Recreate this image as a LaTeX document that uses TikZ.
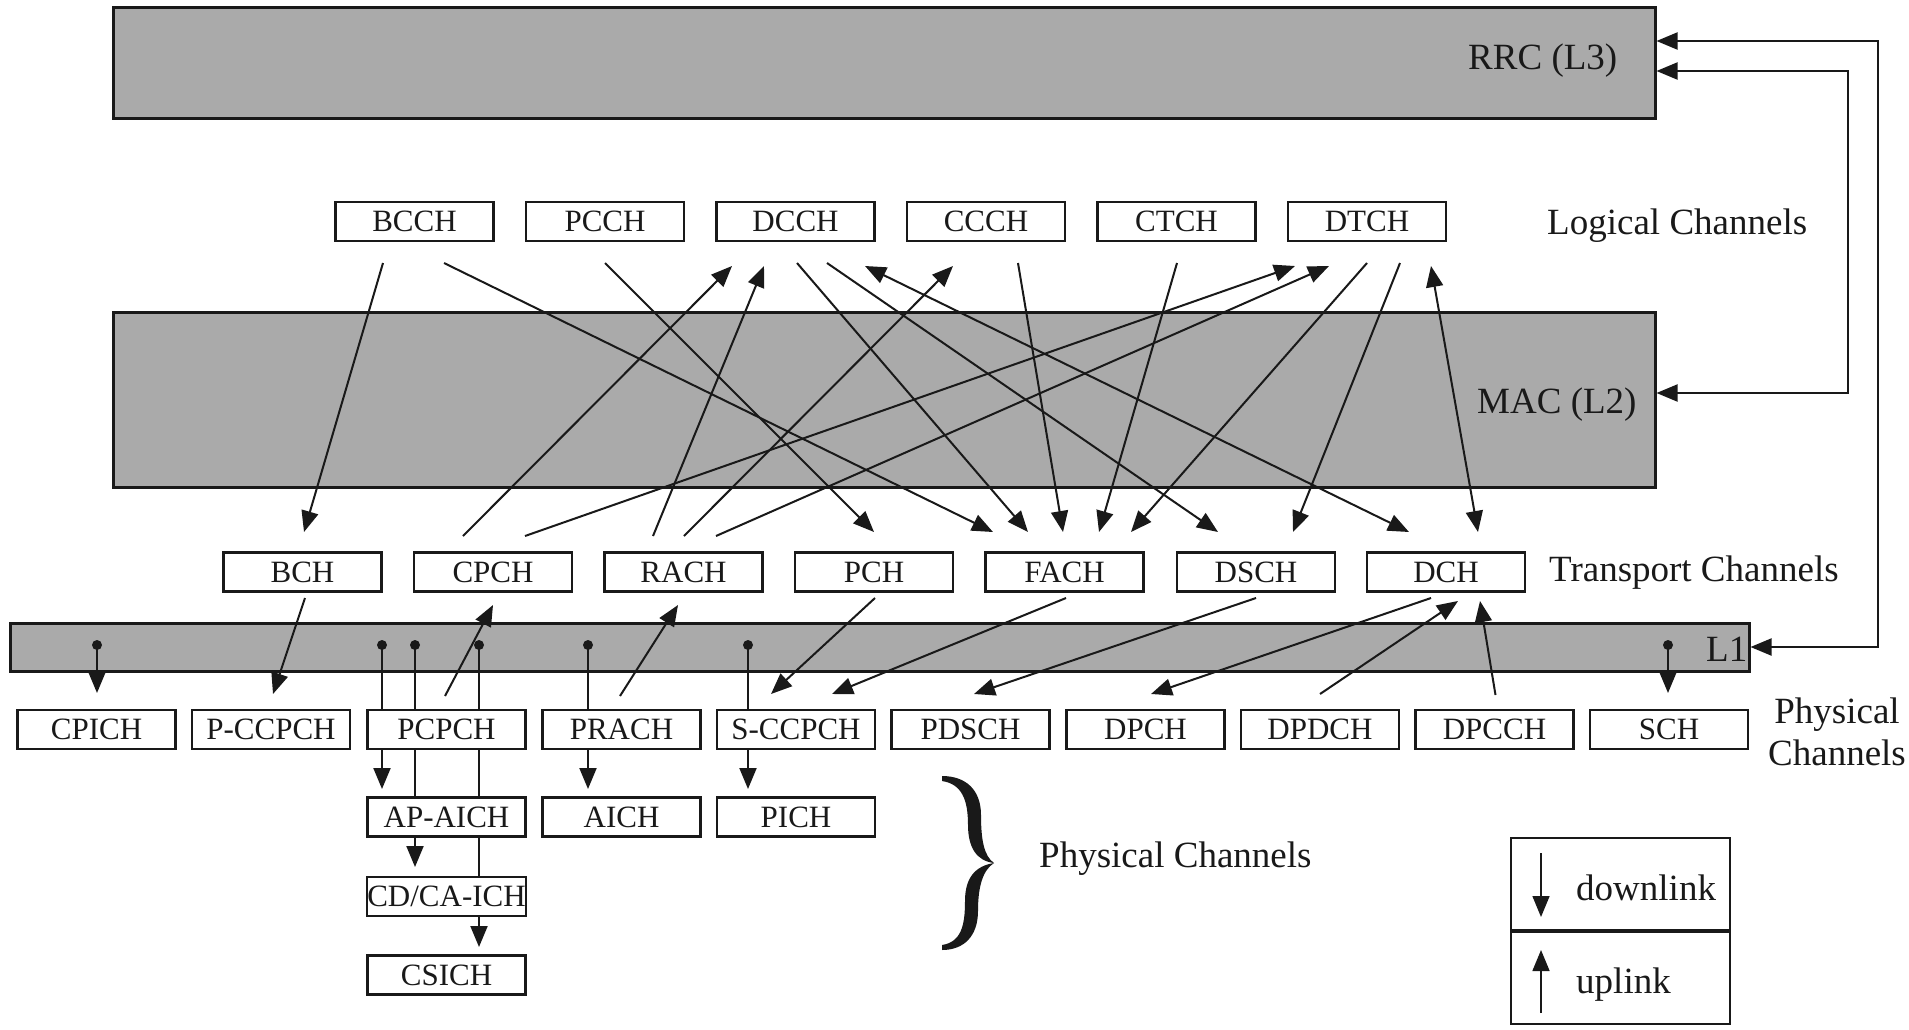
\documentclass[tikz,border=0pt]{standalone}
\usepackage{fontspec}
\setmainfont{Liberation Serif}
\usetikzlibrary{arrows.meta,calc}
\pgfdeclarelayer{bars}
\pgfdeclarelayer{wires}
\pgfsetlayers{bars,wires,main}
\definecolor{layergray}{RGB}{170,170,170}
\definecolor{ink}{RGB}{25,25,25}
\begin{document}
\begin{tikzpicture}[x=1pt,y=-1pt,
  chan/.style={draw=ink, line width=2.4pt, fill=white, minimum width=158pt,
    minimum height=39pt, inner sep=0pt, text=ink, font=\fontsize{31}{31}\selectfont},
  layerbar/.style={draw=ink, line width=3pt, fill=layergray, inner sep=0pt},
  cell/.style={draw=ink, line width=2.4pt, minimum width=219pt, minimum height=92pt, inner sep=0pt},
  tag/.style={font=\fontsize{37}{44}\selectfont, text=ink, inner sep=0pt, anchor=base west},
  tip/.style={Triangle[length=21pt,width=17pt]},
  wire/.style={draw=ink, line width=2pt, -{Triangle[length=21pt,width=17pt]}},
  wire2/.style={draw=ink, line width=2pt, {Triangle[length=21pt,width=17pt]}-{Triangle[length=21pt,width=17pt]}},
  plain/.style={draw=ink, line width=2pt},
  tap/.style={circle, fill=ink, inner sep=0pt, minimum size=10pt}]
\useasboundingbox (0,0) rectangle (1909,1029);

% ---- protocol layers ----
\begin{pgfonlayer}{bars}
  \node[layerbar, minimum width=1542pt, minimum height=111pt] (RRC) at (884,62.5) {};
  \node[layerbar, minimum width=1542pt, minimum height=175pt] (MAC) at (884,399.5) {};
  \node[layerbar, minimum width=1739pt, minimum height=48pt] (L1) at (879.5,647) {};
\end{pgfonlayer}
\node[tag] (rrctag) at (1468,69) {RRC (L3)};
\node[tag] (mactag) at (1477,413) {MAC (L2)};
\node[tag] (l1tag) at (1706,661) {L1};

% ---- logical channels ----
\foreach \n/\x in {BCCH/414.5, PCCH/605, DCCH/795.5, CCCH/986, CTCH/1176.5, DTCH/1367}
  \node[chan] (\n) at (\x,221.5) {\n};
\node[tag] (logtag) at (1547,234) {Logical Channels};

% ---- transport channels ----
\foreach \n/\x in {BCH/302.5, CPCH/493, RACH/683.5, PCH/874, FACH/1064.5, DSCH/1256, DCH/1446}
  \node[chan] (\n) at (\x,572) {\n};
\node[tag] (trtag) at (1549,581) {Transport Channels};

% ---- physical channels ----
\foreach \n/\t/\x in {CPICH/CPICH/96.5, PCCPCH/P-CCPCH/271, PCPCH/PCPCH/446.5,
    PRACH/PRACH/621.5, SCCPCH/S-CCPCH/796, PDSCH/PDSCH/970.5, DPCH/DPCH/1145.5,
    DPDCH/DPDCH/1320, DPCCH/DPCCH/1494.5, SCH/SCH/1669}
  \node[chan] (\n) at (\x,729.5) {\t};
\node[tag, anchor=base] (phtagA) at (1837,723) {Physical};
\node[tag, anchor=base] (phtagB) at (1837,765) {Channels};

\node[chan] (APAICH) at (446.5,817) {AP-AICH};
\node[chan] (AICH) at (621.5,817) {AICH};
\node[chan] (PICH) at (796,817) {PICH};
\node[chan] (CDCA) at (446.5,896.5) {CD/CA-ICH};
\node[chan] (CSICH) at (446.5,975) {CSICH};

% ---- taps on L1 ----
\node[tap] (t1) at (97,645) {};
\node[tap] (t2) at (382,645) {};
\node[tap] (t3) at (415,645) {};
\node[tap] (t4) at (479,645) {};
\node[tap] (t5) at (588,645) {};
\node[tap] (t6) at (748,645) {};
\node[tap] (t7) at (1668,645) {};

\begin{pgfonlayer}{wires}
  % logical <-> transport mapping
  \draw[wire] ($(BCCH)+(-31.5,41.5)$) -- ($(BCH)+(1.5,-40)$);
  \draw[wire] ($(BCCH)+(29.5,41.5)$) -- ($(FACH)+(-71.5,-40)$);
  \draw[wire] ($(PCCH)+(0,41.5)$) -- ($(PCH)+(0,-40)$);
  \draw[wire] ($(CPCH)+(-30,-36)$) -- ($(DCCH)+(-63.5,44.5)$);
  \draw[wire] ($(RACH)+(-30.5,-36)$) -- ($(DCCH)+(-31.5,44.5)$);
  \draw[wire] ($(DCCH)+(1.5,41.5)$) -- ($(FACH)+(-36.5,-40)$);
  \draw[wire] ($(DCCH)+(31.5,41.5)$) -- ($(DSCH)+(-38,-40)$);
  \draw[wire2] ($(DCCH)+(69.5,44.5)$) -- ($(DCH)+(-37,-40)$);
  \draw[wire] ($(RACH)+(0.5,-36)$) -- ($(CCCH)+(-33,44.5)$);
  \draw[wire] ($(CCCH)+(32,41.5)$) -- ($(FACH)+(-1.5,-40)$);
  \draw[wire] ($(CTCH)+(0.5,41.5)$) -- ($(FACH)+(34.5,-40)$);
  \draw[wire] ($(CPCH)+(32,-36)$) -- ($(DTCH)+(-72,44.5)$);
  \draw[wire] ($(RACH)+(32.5,-36)$) -- ($(DTCH)+(-38,44.5)$);
  \draw[wire] ($(DTCH)+(0,41.5)$) -- ($(FACH)+(66.5,-40)$);
  \draw[wire] ($(DTCH)+(33,41.5)$) -- ($(DSCH)+(37,-40)$);
  \draw[wire2] ($(DTCH)+(64,44.5)$) -- ($(DCH)+(32,-40)$);

  % transport <-> physical mapping
  \draw[wire] ($(BCH)+(2.5,26)$) -- ($(PCCPCH)+(2,-35.5)$);
  \draw[wire] ($(PCPCH)+(-1.5,-33.5)$) -- ($(CPCH)+(0,33)$);
  \draw[wire] ($(PRACH)+(-1.5,-33.5)$) -- ($(RACH)+(-5.5,33)$);
  \draw[wire] ($(PCH)+(1,26)$) -- ($(SCCPCH)+(-25,-35.5)$);
  \draw[wire] ($(FACH)+(1.5,26)$) -- ($(SCCPCH)+(36,-35.5)$);
  \draw[wire] ($(DSCH)+(0,26)$) -- ($(PDSCH)+(3.5,-35.5)$);
  \draw[wire] ($(DCH)+(-15,26)$) -- ($(DPCH)+(5.5,-35.5)$);
  \draw[wire] ($(DPDCH)+(0,-35.5)$) -- ($(DCH)+(12,29)$);
  \draw[wire] ($(DPCCH)+(1,-34.5)$) -- ($(DCH)+(34,29)$);

  % physical-layer indicator channels fed from L1
  \draw[wire] (t1.center) -- ($(CPICH)+(0.5,-36.5)$);
  \draw[wire] (t2.center) -- ($(APAICH)+(-64.5,-28)$);
  \draw[wire] (t3.center) -- ($(CDCA)+(-31.5,-29.5)$);
  \draw[wire] (t4.center) -- ($(CSICH)+(32.5,-28)$);
  \draw[wire] (t5.center) -- ($(AICH)+(-33.5,-28)$);
  \draw[wire] (t6.center) -- ($(PICH)+(-48,-28)$);
  \draw[wire] (t7.center) -- ($(SCH)+(-1,-36.5)$);

  % control from RRC to MAC and L1
  \draw[wire2] ($(RRC.east)+(0,-21.5)$) -- ++(221,0) |- (L1.east);
  \draw[wire2] ($(RRC.east)+(0,8.5)$) -- ++(191,0) |- ($(MAC.east)+(0,-6.5)$);
\end{pgfonlayer}

% ---- brace and its caption ----
\fill[ink] (942,776) .. controls (966,776) and (981,790) .. (981,815)
  .. controls (981,840) and (984,856) .. (994,863)
  .. controls (977,861) and (968,848) .. (968,825)
  .. controls (968,800) and (962,784) .. (942,781) -- cycle;
\fill[ink] (942,950) .. controls (964,950) and (978,936) .. (978,911)
  .. controls (978,886) and (983,870) .. (994,863)
  .. controls (975,866) and (965,878) .. (965,901)
  .. controls (965,926) and (961,942) .. (942,945) -- cycle;
\node[tag] (brtag) at (1039,867) {Physical Channels};

% ---- legend ----
\node[cell] (legdown) at (1620.5,884) {};
\node[cell] (legup) at (1620.5,978) {};
\draw[wire, line width=1.6pt] (1541,853) -- (1541,917);
\draw[wire, line width=1.6pt] (1541,1013) -- (1541,950);
\node[tag] (dltag) at (1576,900) {downlink};
\node[tag] (ultag) at (1576,993) {uplink};
\end{tikzpicture}
\end{document}
